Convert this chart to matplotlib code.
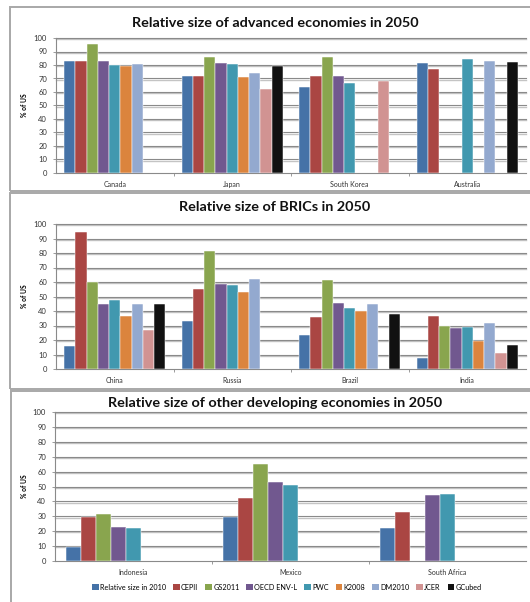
import numpy as np
import matplotlib
matplotlib.use("Agg")
import matplotlib.pyplot as plt
from matplotlib.patches import Rectangle, Patch
from matplotlib.lines import Line2D
from matplotlib.transforms import ScaledTranslation

plt.rcParams['font.family'] = ['Lato', 'DejaVu Sans']

nan = np.nan

# Series (projections, % of US GDP)
series = ["Relative size in 2010", "CEPII", "GS2011", "OECD ENV-L", "PWC",
          "K2008", "DM2010", "JCER", "GCubed"]
colors = ["#4572A7", "#AA4643", "#89A54E", "#71588F", "#4198AF",
          "#DB843D", "#93A9CF", "#D19392", "#111111"]

# Advanced economies
adv_countries = ["Canada", "Japan", "South Korea", "Australia"]
adv_2010   = [83.3, 72.0, 63.6, 81.3]
adv_cepii  = [83.0, 72.0, 71.7, 77.3]
adv_gs     = [95.8, 86.2, 85.7, nan]
adv_oecd   = [82.6, 81.8, 72.2, nan]
adv_pwc    = [80.3, 81.1, 66.6, 84.3]
adv_k2008  = [79.1, 71.0, nan, nan]
adv_dm     = [81.0, 74.4, nan, 82.6]
adv_jcer   = [nan, 61.9, 68.1, nan]
adv_gcubed = [nan, 78.9, nan, 82.1]

# BRICs
bric_countries = ["China", "Russia", "Brazil", "India"]
bric_2010   = [15.6, 33.2, 23.3, 7.3]
bric_cepii  = [94.7, 55.1, 35.7, 36.6]
bric_gs     = [59.7, 81.2, 61.1, 29.7]
bric_oecd   = [44.6, 58.4, 45.5, 28.4]
bric_pwc    = [47.6, 57.9, 42.1, 29.1]
bric_k2008  = [36.6, 52.9, 40.3, 19.2]
bric_dm     = [45.1, 62.0, 44.9, 31.6]
bric_jcer   = [27.0, nan, nan, 11.0]
bric_gcubed = [44.6, nan, 38.0, 16.7]

# Other developing economies
dev_countries = ["Indonesia", "Mexico", "South Africa"]
dev_2010   = [9.1, 29.2, 22.0]
dev_cepii  = [29.4, 42.1, 32.8]
dev_gs     = [31.6, 65.0, nan]
dev_oecd   = [22.7, 52.8, 44.4]
dev_pwc    = [22.0, 50.8, 45.0]
dev_k2008  = [nan, nan, nan]
dev_dm     = [nan, nan, nan]
dev_jcer   = [nan, nan, nan]
dev_gcubed = [nan, nan, nan]

panels = [
    ("Relative size of advanced economies in 2050", adv_countries,
     [adv_2010, adv_cepii, adv_gs, adv_oecd, adv_pwc, adv_k2008, adv_dm, adv_jcer, adv_gcubed]),
    ("Relative size of BRICs in 2050", bric_countries,
     [bric_2010, bric_cepii, bric_gs, bric_oecd, bric_pwc, bric_k2008, bric_dm, bric_jcer, bric_gcubed]),
    ("Relative size of other developing economies in 2050", dev_countries,
     [dev_2010, dev_cepii, dev_gs, dev_oecd, dev_pwc, dev_k2008, dev_dm, dev_jcer, dev_gcubed]),
]

W, H = 530, 602
fig = plt.figure(figsize=(W / 100, H / 100), dpi=100)


def rect(l, t, r, b):
    return [l / W, 1 - b / H, (r - l) / W, (b - t) / H]


# Frame boxes around each chart (pixel coords: left, top, right, bottom)
frames = [(10, 7, 545, 191), (10, 193, 545, 389), (11, 391, 545, 620)]
for l, t, r, b in frames:
    fig.patches.append(Rectangle((l / W, 1 - b / H), (r - l) / W, (b - t) / H,
                                 transform=fig.transFigure, fill=False,
                                 edgecolor="#a8a8a8", linewidth=1.4))

# Axes placement (left, top, right, bottom) and text positions
axes_px = [(56, 38, 526, 173), (56, 224, 526, 369), (55, 412, 526, 561)]
title_y = [23, 207, 403]

group = 0.86
bw = group / len(series)
shadow = ScaledTranslation(0, -1.2 / 100, fig.dpi_scale_trans)

for (title, cats, data), box, ty in zip(panels, axes_px, title_y):
    ax = fig.add_axes(rect(*box))
    x = np.arange(len(cats))
    for i, (vals, c) in enumerate(zip(data, colors)):
        offs = -group / 2 + bw * (i + 0.5)
        ax.bar(x + offs, vals, width=bw, color=c, edgecolor="#ffffff",
               linewidth=0.35, zorder=3)
    ax.set_xlim(-0.5, len(cats) - 0.5)
    ax.set_ylim(0, 100)
    ax.set_yticks(np.arange(0, 101, 10))
    ytr = ax.get_yaxis_transform()
    for gy in np.arange(10, 101, 10):
        ax.add_line(Line2D([0, 1], [gy, gy], color="#c4c4c4", lw=1.0, zorder=1,
                           transform=ytr + shadow, clip_on=False))
        ax.add_line(Line2D([0, 1], [gy, gy], color="#8a8a8a", lw=0.8, zorder=1.5,
                           transform=ytr, clip_on=False))
    ax.set_xticks(x)
    ax.set_xticklabels(cats, fontsize=5)
    ax.set_xticks(np.arange(0.5, len(cats) - 0.5, 1), minor=True)
    ax.tick_params(axis="x", which="major", length=0, pad=6, colors="#333333")
    ax.tick_params(axis="x", which="minor", length=2.5, color="#8a8a8a", width=0.6)
    ax.tick_params(axis="y", labelsize=5.5, length=2.5, color="#8a8a8a",
                   width=0.6, pad=4, labelcolor="#333333")
    for s in ("top", "right"):
        ax.spines[s].set_visible(False)
    for s in ("left", "bottom"):
        ax.spines[s].set_color("#8a8a8a")
        ax.spines[s].set_linewidth(0.8)
    ax.set_ylabel("% of US", fontsize=4.8, fontweight="bold")
    ax.yaxis.set_label_coords(-(box[0] - 28) / (box[2] - box[0]), 0.5)
    fig.text(275 / W, 1 - ty / H, title, ha="center", va="center",
             fontsize=10.4, fontweight="bold", color="#111111")

handles = [Patch(facecolor=c, edgecolor="none") for c in colors]
fig.legend(handles, series, loc="center", bbox_to_anchor=(287 / W, 1 - 587 / H),
           ncol=9, fontsize=5.2, frameon=False, handlelength=0.9,
           handleheight=0.9, handletextpad=0.2, columnspacing=0.95)

fig.savefig("out.png", dpi=100)
